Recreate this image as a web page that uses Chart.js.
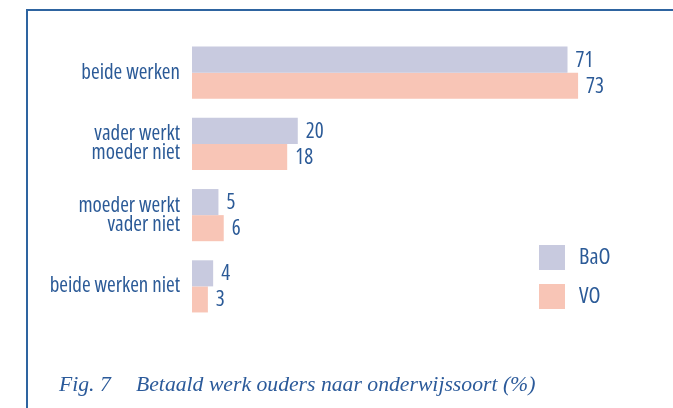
<!DOCTYPE html>
<html>
<head>
<meta charset="utf-8">
<script src="https://cdn.jsdelivr.net/npm/chart.js@4"></script>
<style>
  html, body { margin: 0; padding: 0; background: #fff; }
  #wrap { position: relative; width: 673px; height: 408px; overflow: hidden; }
  #frame { position: absolute; left: 26px; top: 9px; width: 660px; height: 420px;
           border-left: 2px solid #2e64a0; border-top: 2px solid #2e64a0; }
  #chart { position: absolute; left: 0; top: 0; }
  .cap { position: absolute; top: 372px; color: #2b5a9a;
         font: italic 21.7px 'Liberation Serif', 'DejaVu Serif', serif; white-space: pre; }
</style>
</head>
<body>
<div id="wrap">
  <div id="frame"></div>
  <canvas id="chart" width="673" height="408"></canvas>
  <div class="cap" style="left:59px">Fig. 7</div>
  <div class="cap" style="left:136px">Betaald werk ouders naar onderwijssoort (%)</div>
</div>
<script>
const categories = [
  ['beide werken'],
  ['vader werkt', 'moeder niet'],
  ['moeder werkt', 'vader niet'],
  ['beide werken niet']
];
const seriesNames = ['BaO', 'VO'];
const baoValues = [71, 20, 5, 4];
const voValues = [73, 18, 6, 3];

const textColor = '#2b5a97';
const labelFont = "'Open Sans', sans-serif";

// numbers to the right of every bar
const valueLabels = {
  id: 'valueLabels',
  afterDatasetsDraw(chart) {
    const ctx = chart.ctx;
    ctx.save();
    ctx.fillStyle = textColor;
    ctx.font = 'condensed 21px ' + labelFont;
    ctx.textBaseline = 'middle';
    chart.data.datasets.forEach((ds, i) => {
      chart.getDatasetMeta(i).data.forEach((bar, j) => {
        ctx.fillText(ds.data[j], bar.x + 8, bar.y + 1);
      });
    });
    ctx.restore();
  }
};

// legend boxes inside the plot, lower right
const boxLegend = {
  id: 'boxLegend',
  afterDraw(chart) {
    const ctx = chart.ctx;
    const area = chart.chartArea;
    ctx.save();
    ctx.font = 'condensed 22px ' + labelFont;
    ctx.textBaseline = 'middle';
    chart.data.datasets.forEach((ds, i) => {
      const x = area.left + 347;
      const y = area.top + 208 + i * 39;
      ctx.fillStyle = ds.backgroundColor;
      ctx.fillRect(x, y, 26, 25);
      ctx.fillStyle = textColor;
      ctx.fillText(ds.label, x + 40, y + 13);
    });
    ctx.restore();
  }
};

new Chart(document.getElementById('chart'), {
  type: 'bar',
  data: {
    labels: categories,
    datasets: [
      { label: seriesNames[0], data: baoValues, backgroundColor: '#c8cadf' },
      { label: seriesNames[1], data: voValues, backgroundColor: '#f8c5b6' }
    ]
  },
  options: {
    indexAxis: 'y',
    responsive: false,
    animation: false,
    layout: { padding: { top: 37, bottom: 86, left: 0, right: 5 } },
    datasets: { bar: { barPercentage: 1, categoryPercentage: 0.732 } },
    scales: {
      x: { display: false, min: 0, max: 90 },
      y: {
        grid: { display: false, drawTicks: false },
        border: { display: false },
        afterFit(scale) { scale.width = 192; },
        ticks: {
          color: textColor,
          padding: 12,
          // weight slot carries the font-stretch keyword into the canvas font string
          font: { family: labelFont, weight: 'condensed', size: 21, lineHeight: 0.9 }
        }
      }
    },
    plugins: {
      legend: { display: false },
      tooltip: { enabled: false }
    }
  },
  plugins: [valueLabels, boxLegend]
});
</script>
</body>
</html>
